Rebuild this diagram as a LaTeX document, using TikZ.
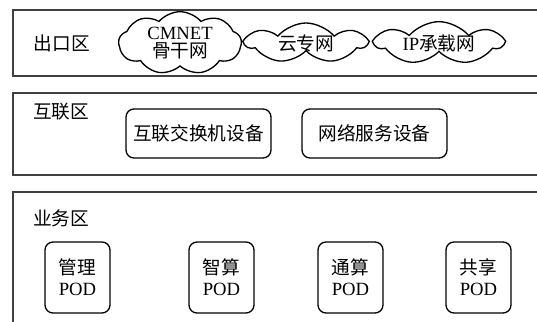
\documentclass[tikz,border=0pt]{standalone}
\usepackage{fontspec}
\setmainfont{Liberation Serif}
\newfontfamily\cjk{Noto Sans CJK SC}
\usetikzlibrary{shapes.symbols}

\begin{document}
\begin{tikzpicture}[x=0.75pt,y=0.75pt,font=\fontsize{14}{16}\selectfont]
			\useasboundingbox (0,0) rectangle (537,322);
			\clip (0,0) rectangle (537,322);

			% zones
			\begin{scope}[every path/.style={draw=black!75,line width=1.2pt}]
				\draw (545,312) -- (13,312) -- (13,246) -- (545,246);
				\draw (545,229) -- (13,229) -- (13,147) -- (545,147);
				\draw (545,130) -- (13,130) -- (13,-10);
			\end{scope}

			\begin{scope}[every node/.style={font=\cjk\fontsize{14}{16}\selectfont}]
				\node (chukou) at (62,279) {出口区};
				\node (hulian) at (61,210) {互联区};
				\node (yewu) at (61,104) {业务区};
			\end{scope}

			\begin{scope}[every node/.style={cloud,cloud puffs=7,cloud puff arc=100,cloud ignores aspect,draw,line width=1pt,inner sep=0pt,align=center}]
				\node[cloud puffs=9,minimum width=92pt,minimum height=47pt] (cmnet) at (180,279) {CMNET\\[-2pt]{\cjk 骨干网}};
				\node[minimum width=90pt,minimum height=30pt] (yunzhuan) at (306,279) {\cjk 云专网};
				\node[minimum width=95pt,minimum height=30pt] (ipnet) at (439,279) {IP{\cjk 承载网}};
			\end{scope}

			\begin{scope}[every node/.style={draw,line width=1pt,rounded corners=6pt,minimum width=108.75pt,minimum height=36.75pt,font=\cjk\fontsize{14}{16}\selectfont}]
				\node (jiaohuan) at (198.5,188.5) {互联交换机设备};
				\node (fuwu) at (374.5,188.5) {网络服务设备};
			\end{scope}

			\begin{scope}[every node/.style={draw,line width=1pt,rounded corners=6pt,minimum width=48.75pt,minimum height=53.25pt,align=center}]
				\node (guanli) at (77.5,44.5) {{\cjk 管理}\\POD};
				\node (zhisuan) at (221.5,44.5) {{\cjk 智算}\\POD};
				\node (tongsuan) at (350.5,44.5) {{\cjk 通算}\\POD};
				\node (gongxiang) at (478.5,44.5) {{\cjk 共享}\\POD};
			\end{scope}
		\end{tikzpicture}
\end{document}
